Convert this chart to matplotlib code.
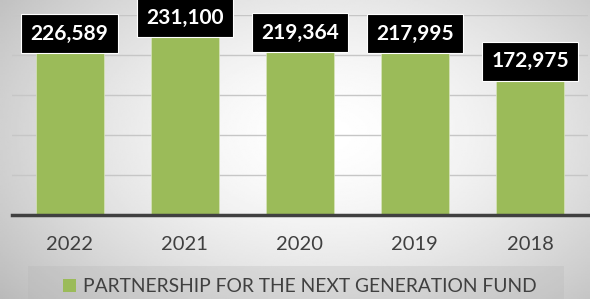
import numpy as np
import matplotlib
matplotlib.use("Agg")
import matplotlib.pyplot as plt
from matplotlib.patches import Patch, Rectangle

# data
years = ["2022", "2021", "2020", "2019", "2018"]
values = [226589, 231100, 219364, 217995, 172975]
series_name = "PARTNERSHIP FOR THE NEXT GENERATION FUND"

# label nudges (points) - labels sit a bit above the bar tops in the original
label_dy = [0, 9, 5, 5, 11]

green = "#9BBB59"
dark = "#404040"

fig = plt.figure(figsize=(5.9, 2.99), dpi=100)

# radial-ish gray background
bg = fig.add_axes([0, 0, 1, 1], zorder=-10)
gx, gy = np.meshgrid(np.linspace(0, 1, 300), np.linspace(0, 1, 200))
d = np.sqrt(((gx - 0.55) / 0.6) ** 2 + ((gy - 0.45) / 0.75) ** 2)
shade = 1 - 0.21 * np.clip(d, 0, 1.3) ** 1.6
bg.imshow(shade, cmap="gray", vmin=0, vmax=1, aspect="auto",
          extent=[0, 1, 0, 1], interpolation="bilinear")
bg.axis("off")

ax = fig.add_axes([12 / 590, 1 - 215 / 299, 575.5 / 590, 200 / 299])
ax.patch.set_alpha(0)

x = np.arange(len(years))
bars = ax.bar(x, values, width=0.59, color=green, edgecolor="#d8e4bc",
              linewidth=0.5, zorder=3)

ax.set_ylim(0, 250000)
ax.set_xlim(-0.5, len(years) - 0.5)
ax.set_yticks(np.arange(50000, 250001, 50000))
ax.yaxis.grid(True, color="#c6c6c6", linewidth=1)
ax.set_axisbelow(True)
ax.tick_params(axis="y", left=False, labelleft=False)
ax.tick_params(axis="x", length=0, pad=15)
ax.set_xticks(x)
ax.set_xticklabels(years, fontsize=14.5, color=dark, family="Lato")
for s in ["top", "left", "right"]:
    ax.spines[s].set_visible(False)
ax.spines["bottom"].set_color(dark)
ax.spines["bottom"].set_linewidth(2.5)
ax.spines["bottom"].set_zorder(4)

for xi, v, dy in zip(x, values, label_dy):
    ax.annotate(f"{v:,}", (xi, v), xytext=(0, dy), textcoords="offset points",
                ha="center", va="center", fontsize=15, fontweight="bold",
                family="Lato", color="white", zorder=6, annotation_clip=False,
                bbox=dict(boxstyle="square,pad=0.45", facecolor="black",
                          edgecolor="white", linewidth=0.8))

# legend band
fig.patches.append(Rectangle((28 / 590, 0), (564 - 28) / 590, 33 / 299,
                             transform=fig.transFigure, facecolor="#b5b5b5",
                             alpha=0.28, edgecolor="none", zorder=-5))
fig.legend(handles=[Patch(facecolor=green, edgecolor="none")],
           labels=[series_name], loc="center",
           bbox_to_anchor=(300 / 590, 1 - 287 / 299), frameon=False,
           handlelength=0.65, handleheight=0.65, handletextpad=0.4,
           prop=dict(family="Lato", size=13.9), labelcolor=dark)

fig.savefig("out.png", dpi=100)
